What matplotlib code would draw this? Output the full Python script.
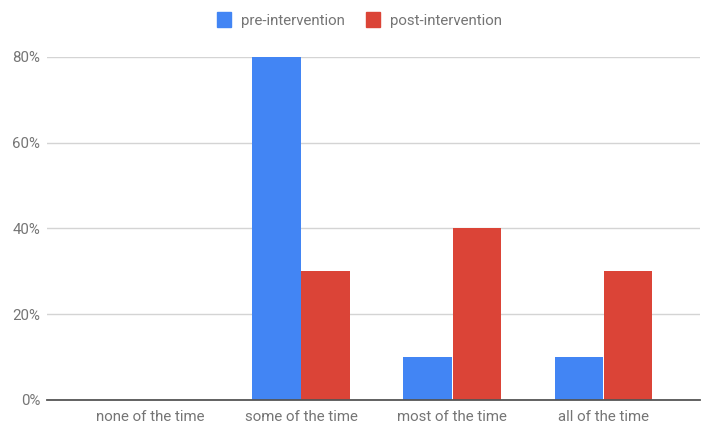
import matplotlib.pyplot as plt
import numpy as np
from matplotlib.patches import Patch

categories = ["none of the time", "some of the time", "most of the time", "all of the time"]
pre = [0, 80, 10, 10]
post = [0, 30, 40, 30]
yticks = [0, 20, 40, 60, 80]

blue = "#4285F4"
red = "#DB4437"
grey = "#757575"

plt.rcParams["font.family"] = ["Roboto", "DejaVu Sans"]

fig = plt.figure(figsize=(7.01, 4.25), dpi=100)
ax = fig.add_axes([0.067, 0.059, 0.932, 0.807])

x = np.arange(len(categories))
w = 0.32
ax.bar(x - w / 2 - 0.003, pre, w, color=blue, zorder=3)
ax.bar(x + w / 2 + 0.003, post, w, color=red, zorder=3)

ax.set_xlim(-0.68, 3.64)
ax.set_ylim(0, 80)
ax.set_yticks(yticks)
ax.set_yticklabels([f"{v}%" for v in yticks])
ax.set_xticks(x)
ax.set_xticklabels(categories)
ax.tick_params(axis="both", length=0, colors=grey, labelsize=10.8)
ax.tick_params(axis="x", pad=7)
ax.tick_params(axis="y", pad=5)

ax.grid(axis="y", color="#d4d4d4", linewidth=1, zorder=0)
for s in ["top", "right", "left"]:
    ax.spines[s].set_visible(False)
ax.spines["bottom"].set_color("#555555")
ax.spines["bottom"].set_linewidth(1.3)
ax.spines["bottom"].set_zorder(4)

handles = [Patch(color=blue, label="pre-intervention"), Patch(color=red, label="post-intervention")]
fig.legend(handles=handles, loc="center", bbox_to_anchor=(0.513, 0.953), ncol=2,
           frameon=False, fontsize=10.8, labelcolor=grey, handlelength=0.9, handleheight=1.2,
           handletextpad=0.7, columnspacing=1.4)

fig.savefig("out.png", dpi=100)
